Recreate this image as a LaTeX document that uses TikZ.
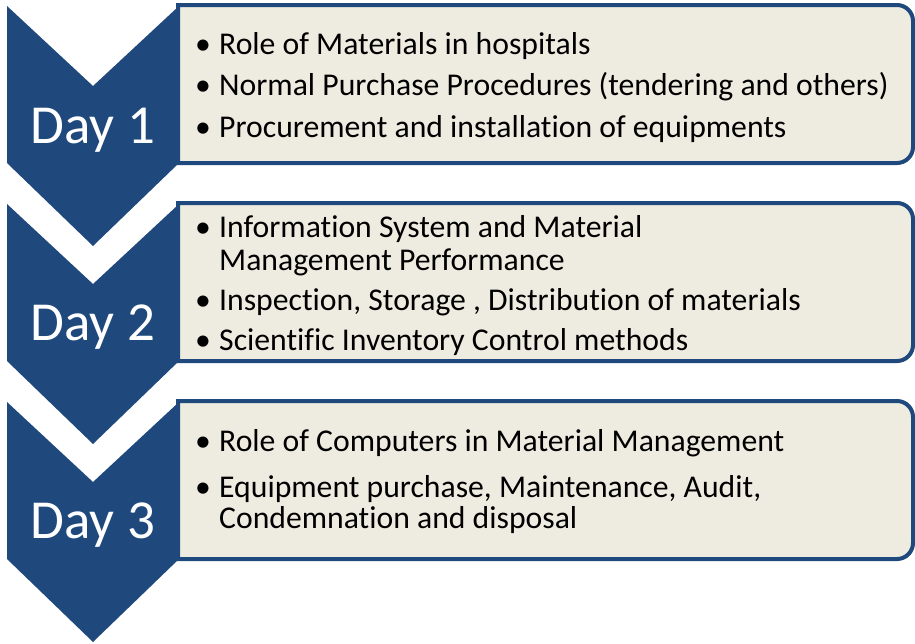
\documentclass[tikz,border=0pt]{standalone}
\usepackage{fontspec}
\setmainfont{Carlito}[Ligatures=NoCommon]
\definecolor{dayblue}{HTML}{1F497D}
\definecolor{boxtan}{HTML}{EEECE1}
\tikzset{
    chevron/.style={fill=dayblue, draw=none},
    topicbox/.style={fill=boxtan, draw=dayblue, line width=4pt},
    daylabel/.style={text=white, font=\fontsize{55}{60}\selectfont, anchor=base, inner sep=0pt},
    topic/.style={text=black, font=\fontsize{31.7}{34}\selectfont, anchor=base west, inner sep=0pt},
    dot/.style={topic, anchor=base},
}

\begin{document}
\begin{tikzpicture}[x=1pt, y=-1pt]
    \useasboundingbox (0,0) rectangle (915,643);

    \foreach \t in {6,204,402} {
        \draw[topicbox] (178,\t-1) -- (897,\t-1)
            .. controls (905.8,\t-1) and (913,\t+6.2) .. (913,\t+15)
            -- (913,\t+141)
            .. controls (913,\t+149.8) and (905.8,\t+157) .. (897,\t+157)
            -- (178,\t+157) -- cycle;
        \fill[chevron] (7,\t) -- (93,\t+80) -- (179,\t) -- (179,\t+157)
            -- (93,\t+240) -- (7,\t+157) -- cycle;
    }

    \node[daylabel] (d1) at (93,143) {Day 1};
    \node[daylabel] (d2) at (93,340) {Day 2};
    \node[daylabel] (d3) at (93,538) {Day 3};

    % day 1
    \node[dot] (b1a) at (203,54) {\textbullet};
    \node[topic] (t1a) at (219,54) {Role of Materials in hospitals};
    \node[dot] (b1b) at (203,95) {\textbullet};
    \node[topic] (t1b) at (219,95) {Normal Purchase Procedures (tendering and others)};
    \node[dot] (b1c) at (203,137) {\textbullet};
    \node[topic] (t1c) at (219,137) {Procurement and installation of equipments};

    % day 2
    \node[dot] (b2a) at (203,237) {\textbullet};
    \node[topic] (t2a) at (219,237) {Information System and Material};
    \node[topic] (t2a2) at (219,270) {Management Performance};
    \node[dot] (b2b) at (203,310) {\textbullet};
    \node[topic] (t2b) at (219,310) {Inspection, Storage , Distribution of materials};
    \node[dot] (b2c) at (203,350) {\textbullet};
    \node[topic] (t2c) at (219,350) {Scientific Inventory Control methods};

    % day 3
    \node[dot] (b3a) at (203,451) {\textbullet};
    \node[topic] (t3a) at (219,451) {Role of Computers in Material Management};
    \node[dot] (b3b) at (203,497) {\textbullet};
    \node[topic] (t3b) at (219,497) {Equipment purchase, Maintenance, Audit,};
    \node[topic] (t3b2) at (219,528) {Condemnation and disposal};
\end{tikzpicture}
\end{document}
